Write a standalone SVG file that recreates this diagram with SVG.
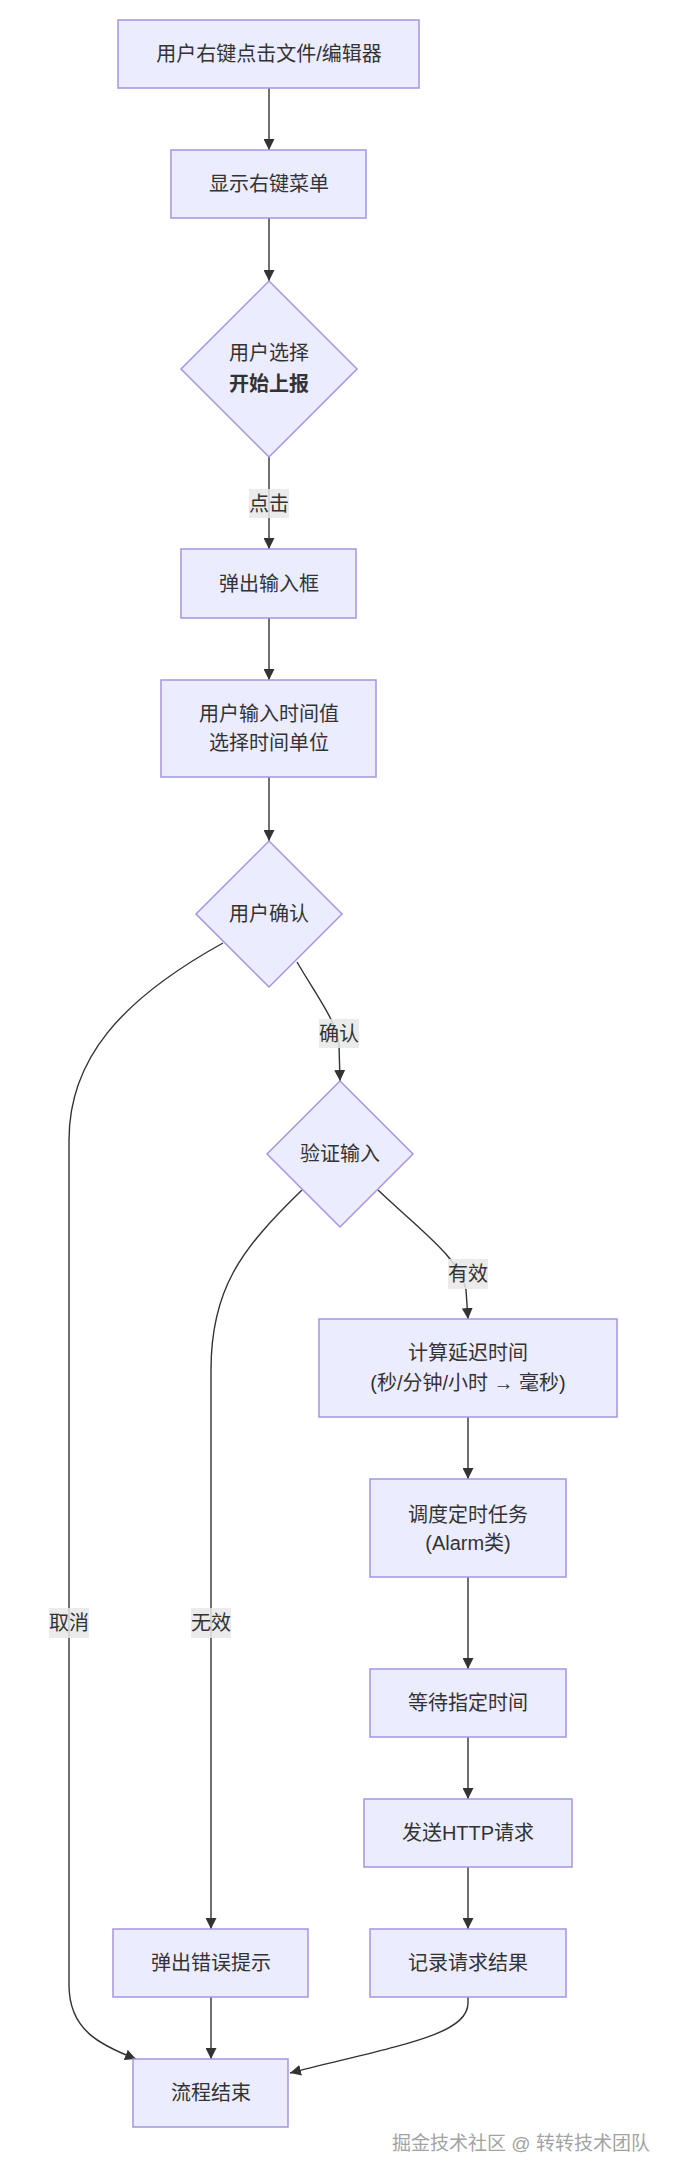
<svg xmlns="http://www.w3.org/2000/svg" width="673" height="2175" viewBox="0 0 673 2175">
<style>
  .node rect, .node polygon { fill: #ECECFF; stroke: #a694e2; stroke-width: 1.5; }
  text { font-family: "Liberation Sans", "Noto Sans CJK SC", sans-serif; font-size: 20px; fill: #333333; text-anchor: middle; dominant-baseline: central; }
  .bold { font-weight: bold; }
  .edge { fill: none; stroke: #333333; stroke-width: 1.4; }
  .lbl rect { fill: #e8e8e8; fill-opacity: 0.85; }
  .wm { font-size: 19px; fill: #a3a3a3; }
</style>
<defs>
  <marker id="arrow" viewBox="0 0 10 10" refX="10" refY="5" markerWidth="11" markerHeight="11" markerUnits="userSpaceOnUse" orient="auto">
    <path d="M0,0 L10,5 L0,10 z" fill="#333333"/>
  </marker>
</defs>
<rect x="0" y="0" width="673" height="2175" fill="#ffffff"/>

<g id="connectors">
  <path class="edge" d="M269,88 L269,150" marker-end="url(#arrow)"/>
  <path class="edge" d="M269,218 L269,281" marker-end="url(#arrow)"/>
  <path class="edge" d="M269,457 L269,549" marker-end="url(#arrow)"/>
  <path class="edge" d="M269,618 L269,680" marker-end="url(#arrow)"/>
  <path class="edge" d="M269,777 L269,841" marker-end="url(#arrow)"/>
  <path class="edge" d="M297,962 C318,998 337,1022 339,1045 L340,1081" marker-end="url(#arrow)"/>
  <path class="edge" d="M223,943 C120,1000 69,1060 69,1140 L69,1985 C69,2030 100,2045 136,2059" marker-end="url(#arrow)"/>
  <path class="edge" d="M302,1190 C240,1250 211,1290 211,1370 L211,1929" marker-end="url(#arrow)"/>
  <path class="edge" d="M378,1190 C420,1230 460,1258 466,1290 L468,1319" marker-end="url(#arrow)"/>
  <path class="edge" d="M468,1417 L468,1479" marker-end="url(#arrow)"/>
  <path class="edge" d="M468,1577 L468,1669" marker-end="url(#arrow)"/>
  <path class="edge" d="M468,1737 L468,1799" marker-end="url(#arrow)"/>
  <path class="edge" d="M468,1867 L468,1929" marker-end="url(#arrow)"/>
  <path class="edge" d="M211,1997 L211,2059" marker-end="url(#arrow)"/>
  <path class="edge" d="M468,1997 L468,2003 C468,2035 400,2045 290,2073" marker-end="url(#arrow)"/>

  <g class="lbl"><rect x="249" y="489" width="40" height="29"/><text x="269" y="503.5">点击</text></g>
  <g class="lbl"><rect x="319" y="1019" width="40" height="29"/><text x="339" y="1033.5">确认</text></g>
  <g class="lbl"><rect x="448" y="1259" width="40" height="30"/><text x="468" y="1274">有效</text></g>
  <g class="lbl"><rect x="49" y="1608" width="40" height="30"/><text x="69" y="1623">取消</text></g>
  <g class="lbl"><rect x="191" y="1608" width="40" height="30"/><text x="211" y="1623">无效</text></g>
</g>

<g id="n1" class="node"><rect x="118" y="20" width="301" height="68"/><text x="269" y="54">用户右键点击文件/编辑器</text></g>
<g id="n2" class="node"><rect x="171" y="150" width="195" height="68"/><text x="269" y="184">显示右键菜单</text></g>
<g id="n3" class="node"><polygon points="269,281 357,369 269,457 181,369"/><text x="269" y="353">用户选择</text><text class="bold" x="269" y="384">开始上报</text></g>
<g id="n4" class="node"><rect x="181" y="549" width="175" height="69"/><text x="269" y="583.5">弹出输入框</text></g>
<g id="n5" class="node"><rect x="161" y="680" width="215" height="97"/><text x="269" y="714">用户输入时间值</text><text x="269" y="743">选择时间单位</text></g>
<g id="n6" class="node"><polygon points="269,841 342,914 269,987 196,914"/><text x="269" y="914">用户确认</text></g>
<g id="n7" class="node"><polygon points="340,1081 413,1154 340,1227 267,1154"/><text x="340" y="1154">验证输入</text></g>
<g id="n8" class="node"><rect x="319" y="1319" width="298" height="98"/><text x="468" y="1353">计算延迟时间</text><text x="468" y="1383">(秒/分钟/小时 → 毫秒)</text></g>
<g id="n9" class="node"><rect x="370" y="1479" width="196" height="98"/><text x="468" y="1515">调度定时任务</text><text x="468" y="1543">(Alarm类)</text></g>
<g id="n10" class="node"><rect x="370" y="1669" width="196" height="68"/><text x="468" y="1703">等待指定时间</text></g>
<g id="n11" class="node"><rect x="364" y="1799" width="208" height="68"/><text x="468" y="1833">发送HTTP请求</text></g>
<g id="n12" class="node"><rect x="113" y="1929" width="195" height="68"/><text x="211" y="1963">弹出错误提示</text></g>
<g id="n13" class="node"><rect x="370" y="1929" width="196" height="68"/><text x="468" y="1963">记录请求结果</text></g>
<g id="n14" class="node"><rect x="133" y="2059" width="155" height="68"/><text x="211" y="2093">流程结束</text></g>

<text class="wm" x="521" y="2143">掘金技术社区 @ 转转技术团队</text>
</svg>
